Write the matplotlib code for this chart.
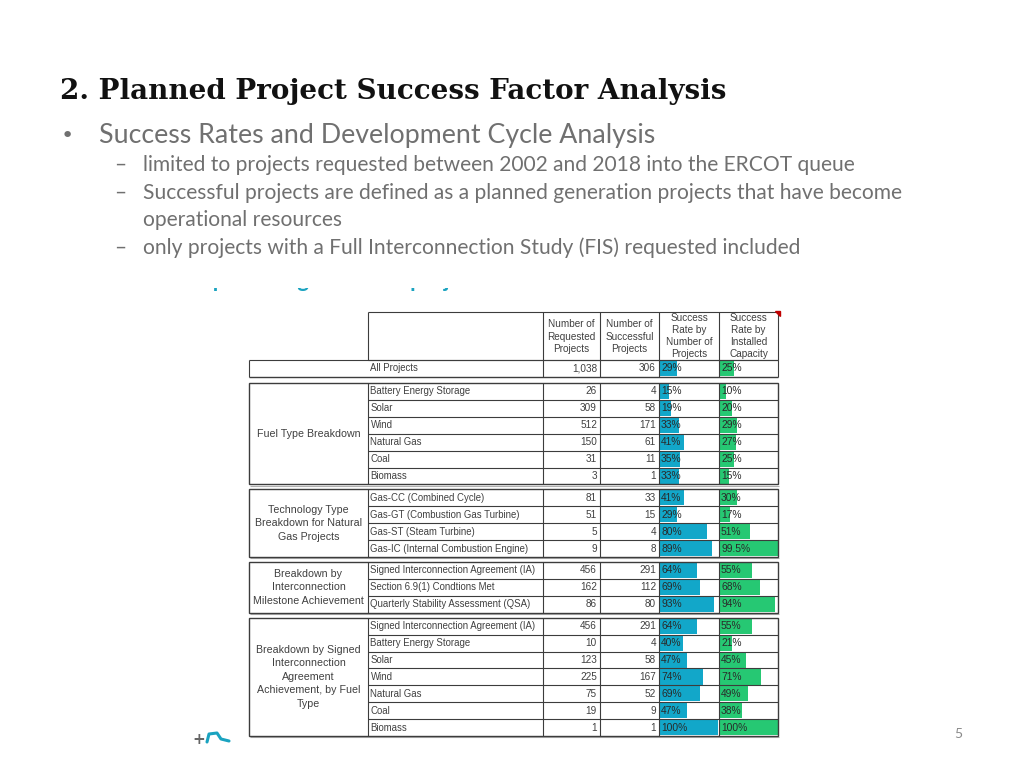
import matplotlib
matplotlib.use('Agg')
import matplotlib.pyplot as plt
from matplotlib.patches import Rectangle, Polygon

# ---------------- data ----------------
all_name = "All Projects"
all_req = 1038
all_suc = 306
all_rate_num = 29
all_rate_cap = 25

group_labels = [
    ["Fuel Type Breakdown"],
    ["Technology Type", "Breakdown for Natural", "Gas Projects"],
    ["Breakdown by", "Interconnection", "Milestone Achievement"],
    ["Breakdown by Signed", "Interconnection", "Agreement", "Achievement, by Fuel", "Type"],
]

g1_names = ["Battery Energy Storage", "Solar", "Wind", "Natural Gas", "Coal", "Biomass"]
g1_req = [26, 309, 512, 150, 31, 3]
g1_suc = [4, 58, 171, 61, 11, 1]
g1_rate_num = [15, 19, 33, 41, 35, 33]
g1_rate_cap = [10, 20, 29, 27, 25, 15]

g2_names = ["Gas-CC (Combined Cycle)", "Gas-GT (Combustion Gas Turbine)",
            "Gas-ST (Steam Turbine)", "Gas-IC (Internal Combustion Engine)"]
g2_req = [81, 51, 5, 9]
g2_suc = [33, 15, 4, 8]
g2_rate_num = [41, 29, 80, 89]
g2_rate_cap = [30, 17, 51, 99.5]

g3_names = ["Signed Interconnection Agreement (IA)", "Section 6.9(1) Condtions Met",
            "Quarterly Stability Assessment (QSA)"]
g3_req = [456, 162, 86]
g3_suc = [291, 112, 80]
g3_rate_num = [64, 69, 93]
g3_rate_cap = [55, 68, 94]

g4_names = ["Signed Interconnection Agreement (IA)", "Battery Energy Storage", "Solar",
            "Wind", "Natural Gas", "Coal", "Biomass"]
g4_req = [456, 10, 123, 225, 75, 19, 1]
g4_suc = [291, 4, 58, 167, 52, 9, 1]
g4_rate_num = [64, 40, 47, 74, 69, 47, 100]
g4_rate_cap = [55, 21, 45, 71, 49, 38, 100]

header_cols = [
    ["Number of", "Requested", "Projects"],
    ["Number of", "Successful", "Projects"],
    ["Success", "Rate by", "Number of", "Projects"],
    ["Success", "Rate by", "Installed", "Capacity"],
]

title = "2. Planned Project Success Factor Analysis"
bullet = "Success Rates and Development Cycle Analysis"
subs = ["limited to projects requested between 2002 and 2018 into the ERCOT queue",
        "Successful projects are defined as a planned generation projects that have become",
        "operational resources",
        "only projects with a Full Interconnection Study (FIS) requested included"]

# ---------------- layout ----------------
fig = plt.figure(figsize=(10.24, 7.68), dpi=100)
ax = fig.add_axes([0, 0, 1, 1])
ax.set_xlim(0, 1024)
ax.set_ylim(768, 0)
ax.axis('off')
renderer = fig.canvas.get_renderer()

CYAN = '#12a7c9'
GREEN = '#26c873'
LINE = '#3c3c3c'
TXT = '#404040'
GRAY = '#707070'
TFONT = 'Liberation Sans'

X0, XN, XR, XS, XP1, XP2, XE = 249, 368, 543, 600, 659, 719, 778
BARW = 58.5
RH = 16.9
GAP = 5.0
FS_NAME = 6.9
FS_NUM = 7.2
FS_PCT = 7.4
FS_HEAD = 7.2
FS_GROUP = 7.7


def fit(t, target):
    bb = t.get_window_extent(renderer)
    t.set_fontsize(t.get_fontsize() * target / bb.width)


def hline(y, x1, x2, lw=0.8, c=LINE):
    ax.plot([x1, x2], [y, y], color=c, lw=lw, solid_capstyle='butt', zorder=4)


def vline(x, y1, y2, lw=0.8, c=LINE):
    ax.plot([x, x], [y1, y2], color=c, lw=lw, solid_capstyle='butt', zorder=4)


def pct(v):
    return (f"{v:g}%")


# ---------------- slide text ----------------
t = ax.text(60, 99, title, fontsize=24, fontweight='bold', family='DejaVu Serif',
            color='#111111', ha='left', va='baseline')
fit(t, 666)

ax.text(61, 142, "•", fontsize=16, color=GRAY, family='DejaVu Sans', ha='left', va='baseline')
t = ax.text(99, 143, bullet, fontsize=18, color=GRAY, family='Lato', ha='left', va='baseline')
fit(t, 555)
t1 = ax.text(143, 171, subs[0], fontsize=14, color=GRAY, family='Lato', ha='left', va='baseline')
fit(t1, 715)
fs_sub = t1.get_fontsize()
for yy, s in zip([199, 226, 254], subs[1:]):
    ax.text(143, yy, s, fontsize=fs_sub, color=GRAY, family='Lato', ha='left', va='baseline')
for yy in [171, 199, 254]:
    ax.text(114, yy, "–", fontsize=fs_sub, color=GRAY, family='Lato', ha='left', va='baseline')

# partially hidden teal heading behind the table picture (only descenders show)
ax.text(48, 287, "Success rates of planned generation projects", fontsize=16, fontweight='bold',
        color='#1aa3c0', family='Lato', ha='left', va='baseline', zorder=1)
ax.add_patch(Rectangle((30, 258), 800, 30, facecolor='white', edgecolor='none', zorder=2))

ax.text(958, 738, "5", fontsize=10, color='#8a8a8a', family='Lato', ha='center', va='baseline')

# small logo
ax.text(199, 744, "+", fontsize=11, fontweight='bold', color='#666666', family='DejaVu Sans',
        ha='center', va='baseline')
ax.plot([207, 209, 217, 221, 229], [742, 734, 733, 739, 741], color='#1aa3c0', lw=2.2,
        solid_capstyle='round', solid_joinstyle='round')

# ---------------- header ----------------
HT, HB = 312, 360
hline(HT, XN, XE)
hline(HB, XN, XE)
for x in [XN, XR, XS, XP1, XP2, XE]:
    vline(x, HT, HB)
col_centers = [(XR + XS) / 2, (XS + XP1) / 2, (XP1 + XP2) / 2, (XP2 + XE) / 2]
for cx, lines in zip(col_centers, header_cols):
    n = len(lines)
    ys = [324, 336.5, 349] if n == 3 else [318, 330, 342, 354]
    for yy, s in zip(ys, lines):
        ax.text(cx, yy, s, fontsize=FS_HEAD, color=TXT, family=TFONT, ha='center', va='center')
ax.add_patch(Polygon([[775, 311], [780, 311], [780, 316]], closed=True, color='#c00000', zorder=5))


def draw_rows(top, names, req, suc, rnum, rcap):
    n = len(names)
    centers = [top + RH * (i + 0.5) for i in range(n)]
    ax.barh(centers, [v / 100 * BARW for v in rnum], left=XP1 + 0.8, height=RH - 1.6,
            color=CYAN, zorder=3)
    ax.barh(centers, [v / 100 * BARW for v in rcap], left=XP2 + 0.8, height=RH - 1.6,
            color=GREEN, zorder=3)
    for c, nm, a, b, p1, p2 in zip(centers, names, req, suc, rnum, rcap):
        ax.text(XN + 2.5, c, nm, fontsize=FS_NAME, color=TXT, family=TFONT, ha='left', va='center', zorder=6)
        ax.text(XS - 3, c, f"{a:,}", fontsize=FS_NUM, color=TXT, family=TFONT, ha='right', va='center', zorder=6)
        ax.text(XP1 - 3, c, f"{b:,}", fontsize=FS_NUM, color=TXT, family=TFONT, ha='right', va='center', zorder=6)
        ax.text(XP1 + 2, c, pct(p1), fontsize=FS_PCT, color='#2a2a2a', family=TFONT, ha='left', va='center', zorder=6)
        ax.text(XP2 + 2, c, pct(p2), fontsize=FS_PCT, color='#2a2a2a', family=TFONT, ha='left', va='center', zorder=6)
    return top + RH * n


# All projects row
AT = HB
AB = draw_rows(AT, [all_name], [all_req], [all_suc], [all_rate_num], [all_rate_cap])
hline(AT, X0, XE)
hline(AB, X0, XE, lw=1.0)
for x in [X0, XR, XS, XP1, XP2, XE]:
    vline(x, AT, AB)

# groups
groups = [
    (g1_names, g1_req, g1_suc, g1_rate_num, g1_rate_cap),
    (g2_names, g2_req, g2_suc, g2_rate_num, g2_rate_cap),
    (g3_names, g3_req, g3_suc, g3_rate_num, g3_rate_cap),
    (g4_names, g4_req, g4_suc, g4_rate_num, g4_rate_cap),
]
top = 383.0
for lbl, g in zip(group_labels, groups):
    bottom = draw_rows(top, *g)
    ax.add_patch(Rectangle((X0, top), XE - X0, bottom - top, fill=False, edgecolor=LINE,
                           lw=1.0, zorder=5))
    for i in range(1, len(g[0])):
        hline(top + RH * i, XN, XE)
    for x in [XN, XR, XS, XP1, XP2]:
        vline(x, top, bottom)
    hline(bottom + 1.2, X0 + 1, XE + 1, lw=0.8, c='#b0b0b0')
    mid = (top + bottom) / 2
    n = len(lbl)
    for k, s in enumerate(lbl):
        yy = mid + (k - (n - 1) / 2) * 13.6
        ax.text((X0 + XN) / 2, yy, s, fontsize=FS_GROUP, color=TXT, family=TFONT, ha='center', va='center')
    top = bottom + GAP

fig.savefig('out.png', dpi=100, facecolor='white')
